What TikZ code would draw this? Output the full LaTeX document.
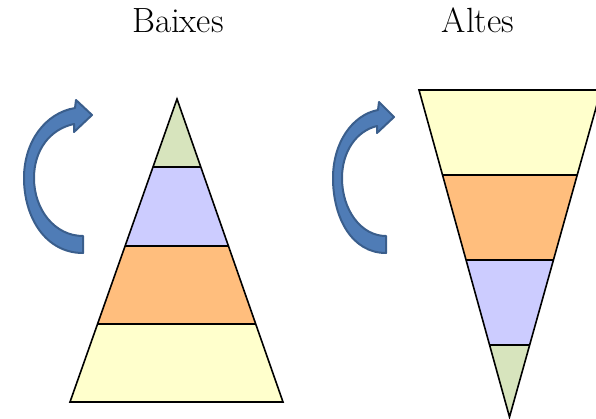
\documentclass[tikz,border=0pt]{standalone}
\usetikzlibrary{calc}
\definecolor{cgreen}{RGB}{215,228,189}
\definecolor{cblue}{RGB}{204,204,255}
\definecolor{corange}{RGB}{255,190,125}
\definecolor{cyellow}{RGB}{255,255,204}
\definecolor{afill}{RGB}{79,124,182}
\definecolor{adraw}{RGB}{58,94,140}
\tikzset{
  outline/.style={draw=black, line width=1.6pt, line join=miter},
  bandline/.style={draw=black, line width=1.6pt},
  curvedarrow/.style={fill=afill, draw=adraw, line width=2pt, line join=round},
  title/.style={anchor=base, inner sep=0pt, font=\fontsize{35}{40}\selectfont}
}
\begin{document}
\begin{tikzpicture}[x=1pt,y=-1pt]
\useasboundingbox (0,0) rectangle (596,418);
\clip (0,0) rectangle (596,418);
% titles
\node[title] (t1) at (178,32) {Baixes};
\node[title] (t2) at (478,32) {Altes};
% left pyramid
\coordinate (LA) at (177,99);
\coordinate (LB1) at (70,402);
\coordinate (LB2) at (283,402);
\begin{scope}
  \clip (LA) -- (LB1) -- (LB2) -- cycle;
  \fill[cgreen] (0,90) rectangle (300,167);
  \fill[cblue] (0,167) rectangle (300,246);
  \fill[corange] (0,246) rectangle (300,324);
  \fill[cyellow] (0,324) rectangle (300,410);
\end{scope}
\draw[bandline] (153.0,167) -- (200.8,167);
\draw[bandline] (125.1,246) -- (228.4,246);
\draw[bandline] (97.6,324) -- (255.7,324);
\draw[outline] (LA) -- (LB1) -- (LB2) -- cycle;
% right inverted pyramid
\coordinate (RT1) at (419,90);
\coordinate (RT2) at (601,90);
\coordinate (RA) at (509.5,417);
\begin{scope}
  \clip (RT1) -- (RT2) -- (RA) -- cycle;
  \fill[cyellow] (400,80) rectangle (620,175);
  \fill[corange] (400,175) rectangle (620,260);
  \fill[cblue] (400,260) rectangle (620,345);
  \fill[cgreen] (400,345) rectangle (620,420);
\end{scope}
\draw[bandline] (442.5,175) -- (577.2,175);
\draw[bandline] (466.1,260) -- (553.4,260);
\draw[bandline] (489.6,345) -- (529.6,345);
\draw[outline] (RT1) -- (RT2) -- (RA) -- cycle;
% left curved arrow
\draw[curvedarrow] (83,253) .. controls (46,253) and (24,218) .. (24,178)
  .. controls (24,142) and (45,113) .. (75,108) -- (76,100) -- (92,115) -- (74,132) -- (74,124)
  .. controls (50,129) and (34,150) .. (34,178)
  .. controls (34,210) and (55,236) .. (83,236) -- cycle;
% right curved arrow
\draw[curvedarrow] (386,253) .. controls (352,253) and (333,218) .. (333,178)
  .. controls (333,143) and (352,115) .. (378,110) -- (379,102) -- (394,117) -- (377,133) -- (377,126)
  .. controls (356,131) and (342,152) .. (342,178)
  .. controls (342,210) and (361,236) .. (386,236) -- cycle;
\end{tikzpicture}
\end{document}
